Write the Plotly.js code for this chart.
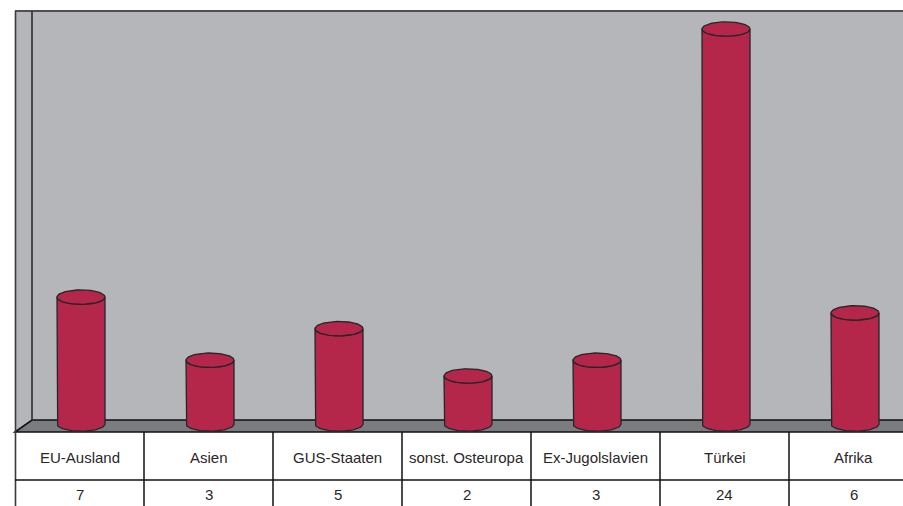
<!DOCTYPE html>
<html>
<head>
<meta charset="utf-8">
<script src="https://cdn.plot.ly/plotly-3.0.1.min.js"></script>
<style>html,body{margin:0;padding:0;background:#fff;overflow:hidden}</style>
</head>
<body>
<div id="chart" style="width:903px;height:506px"></div>
<script>
// Herkunftsregionen und Anzahl
const categories = ["EU-Ausland", "Asien", "GUS-Staaten", "sonst. Osteuropa", "Ex-Jugolslavien", "Türkei", "Afrika"];
const values = [7, 3, 5, 2, 3, 24, 6];

// ---- drawing geometry (pixels) ----
const W = 903, H = 506;
const COL0 = 15, COL_W = 129;          // table columns, first column starts at x=15
const WALL_TOP = 11, WALL_LEFT = 32;   // back wall
const FLOOR_BACK = 420, FLOOR_FRONT = 432;
const ROW_SPLIT = 480;                 // line between name row and value row
const Y_ZERO_PX = 407.5, PX_PER_UNIT = 15.77;
const BASE_PX = 424;                   // centre of the cylinder bases on the floor

const BAR_COLOR = "#b5264b", EDGE = "#262626";
const WALL = "#b5b6ba", FLOOR = "#7b7c80";
const FONT = "Liberation Sans, Arial, sans-serif";

// axis ranges so that category i sits in the middle of table column i
const xc0 = COL0 + COL_W / 2;
const xRange = [(0 - xc0) / COL_W, (W - xc0) / COL_W];
const yRange = [(Y_ZERO_PX - H) / PX_PER_UNIT, Y_ZERO_PX / PX_PER_UNIT];
const floorY = (Y_ZERO_PX - BASE_PX) / PX_PER_UNIT;
const RX = 24 / COL_W, RY = 7.2 / PX_PER_UNIT;
const SHIFT = 1.5 / COL_W;

const px = x => x / W;
const py = y => 1 - y / H;

function arc(cx, cy, t0, t1, n) {
  const xs = [], ys = [];
  for (let k = 0; k <= n; k++) {
    const t = t0 + (t1 - t0) * k / n;
    xs.push(cx + RX * Math.cos(t));
    ys.push(cy + RY * Math.sin(t));
  }
  return [xs, ys];
}

const traces = [];
categories.forEach((c, i) => {
  const cx = i + SHIFT, top = values[i];
  // cylinder body: left side, front arc of the base, right side, front arc of the top
  const [bx, by] = arc(cx, floorY, Math.PI, 2 * Math.PI, 40);
  const [tx, ty] = arc(cx, top, 0, -Math.PI, 40);
  traces.push({
    type: "scatter", mode: "lines", fill: "toself", fillcolor: BAR_COLOR,
    x: [cx - RX, ...bx, ...tx], y: [top, ...by, ...ty],
    line: {color: EDGE, width: 1.3}, hoverinfo: "skip", showlegend: false
  });
  // top ellipse
  const [ex, ey] = arc(cx, top, 0, 2 * Math.PI, 80);
  traces.push({
    type: "scatter", mode: "lines", fill: "toself", fillcolor: BAR_COLOR,
    x: ex, y: ey, line: {color: EDGE, width: 1.3}, hoverinfo: "skip", showlegend: false
  });
});

const shapes = [
  // walls
  {type: "rect", xref: "paper", yref: "paper", layer: "below",
   x0: px(COL0), x1: px(W + 5), y0: py(FLOOR_FRONT), y1: py(WALL_TOP),
   fillcolor: WALL, line: {width: 0}},
  // floor
  {type: "path", xref: "paper", yref: "paper", layer: "below",
   path: `M ${px(COL0)} ${py(FLOOR_FRONT)} L ${px(WALL_LEFT)} ${py(FLOOR_BACK)} L ${px(W + 5)} ${py(FLOOR_BACK)} L ${px(W + 5)} ${py(FLOOR_FRONT)} Z`,
   fillcolor: FLOOR, line: {color: "#111", width: 1.6}},
  // wall edges
  {type: "line", xref: "paper", yref: "paper", layer: "below",
   x0: px(COL0), x1: px(W + 5), y0: py(WALL_TOP), y1: py(WALL_TOP), line: {color: "#505052", width: 2}},
  {type: "line", xref: "paper", yref: "paper", layer: "below",
   x0: px(WALL_LEFT), x1: px(WALL_LEFT), y0: py(WALL_TOP), y1: py(FLOOR_BACK), line: {color: "#2e2e30", width: 1.6}},
  {type: "line", xref: "paper", yref: "paper", layer: "below",
   x0: px(COL0 + 0.5), x1: px(COL0 + 0.5), y0: py(WALL_TOP), y1: py(H + 5), line: {color: "#3a3a3c", width: 1.6}},
  // table
  {type: "line", xref: "paper", yref: "paper",
   x0: px(COL0), x1: px(W + 5), y0: py(ROW_SPLIT), y1: py(ROW_SPLIT), line: {color: "#111", width: 1.5}}
];
for (let i = 1; i < categories.length; i++) {
  const x = COL0 + i * COL_W;
  shapes.push({type: "line", xref: "paper", yref: "paper",
    x0: px(x), x1: px(x), y0: py(FLOOR_FRONT), y1: py(H + 5), line: {color: "#111", width: 1.5}});
}

const annotations = [];
categories.forEach((c, i) => {
  annotations.push({x: i, xref: "x", y: py(457), yref: "paper", text: c, showarrow: false,
    xanchor: "center", yanchor: "middle", font: {family: FONT, size: 15, color: "#2a2728"}});
  annotations.push({x: i, xref: "x", y: py(494), yref: "paper", text: String(values[i]), showarrow: false,
    xanchor: "center", yanchor: "middle", font: {family: FONT, size: 15, color: "#2a2728"}});
});

const layout = {
  width: W, height: H,
  margin: {l: 0, r: 0, t: 0, b: 0},
  paper_bgcolor: "#ffffff", plot_bgcolor: "#ffffff",
  xaxis: {range: xRange, visible: false, fixedrange: true},
  yaxis: {range: yRange, visible: false, fixedrange: true},
  shapes, annotations, showlegend: false
};

Plotly.newPlot("chart", traces, layout, {displayModeBar: false, staticPlot: true});
</script>
</body>
</html>
